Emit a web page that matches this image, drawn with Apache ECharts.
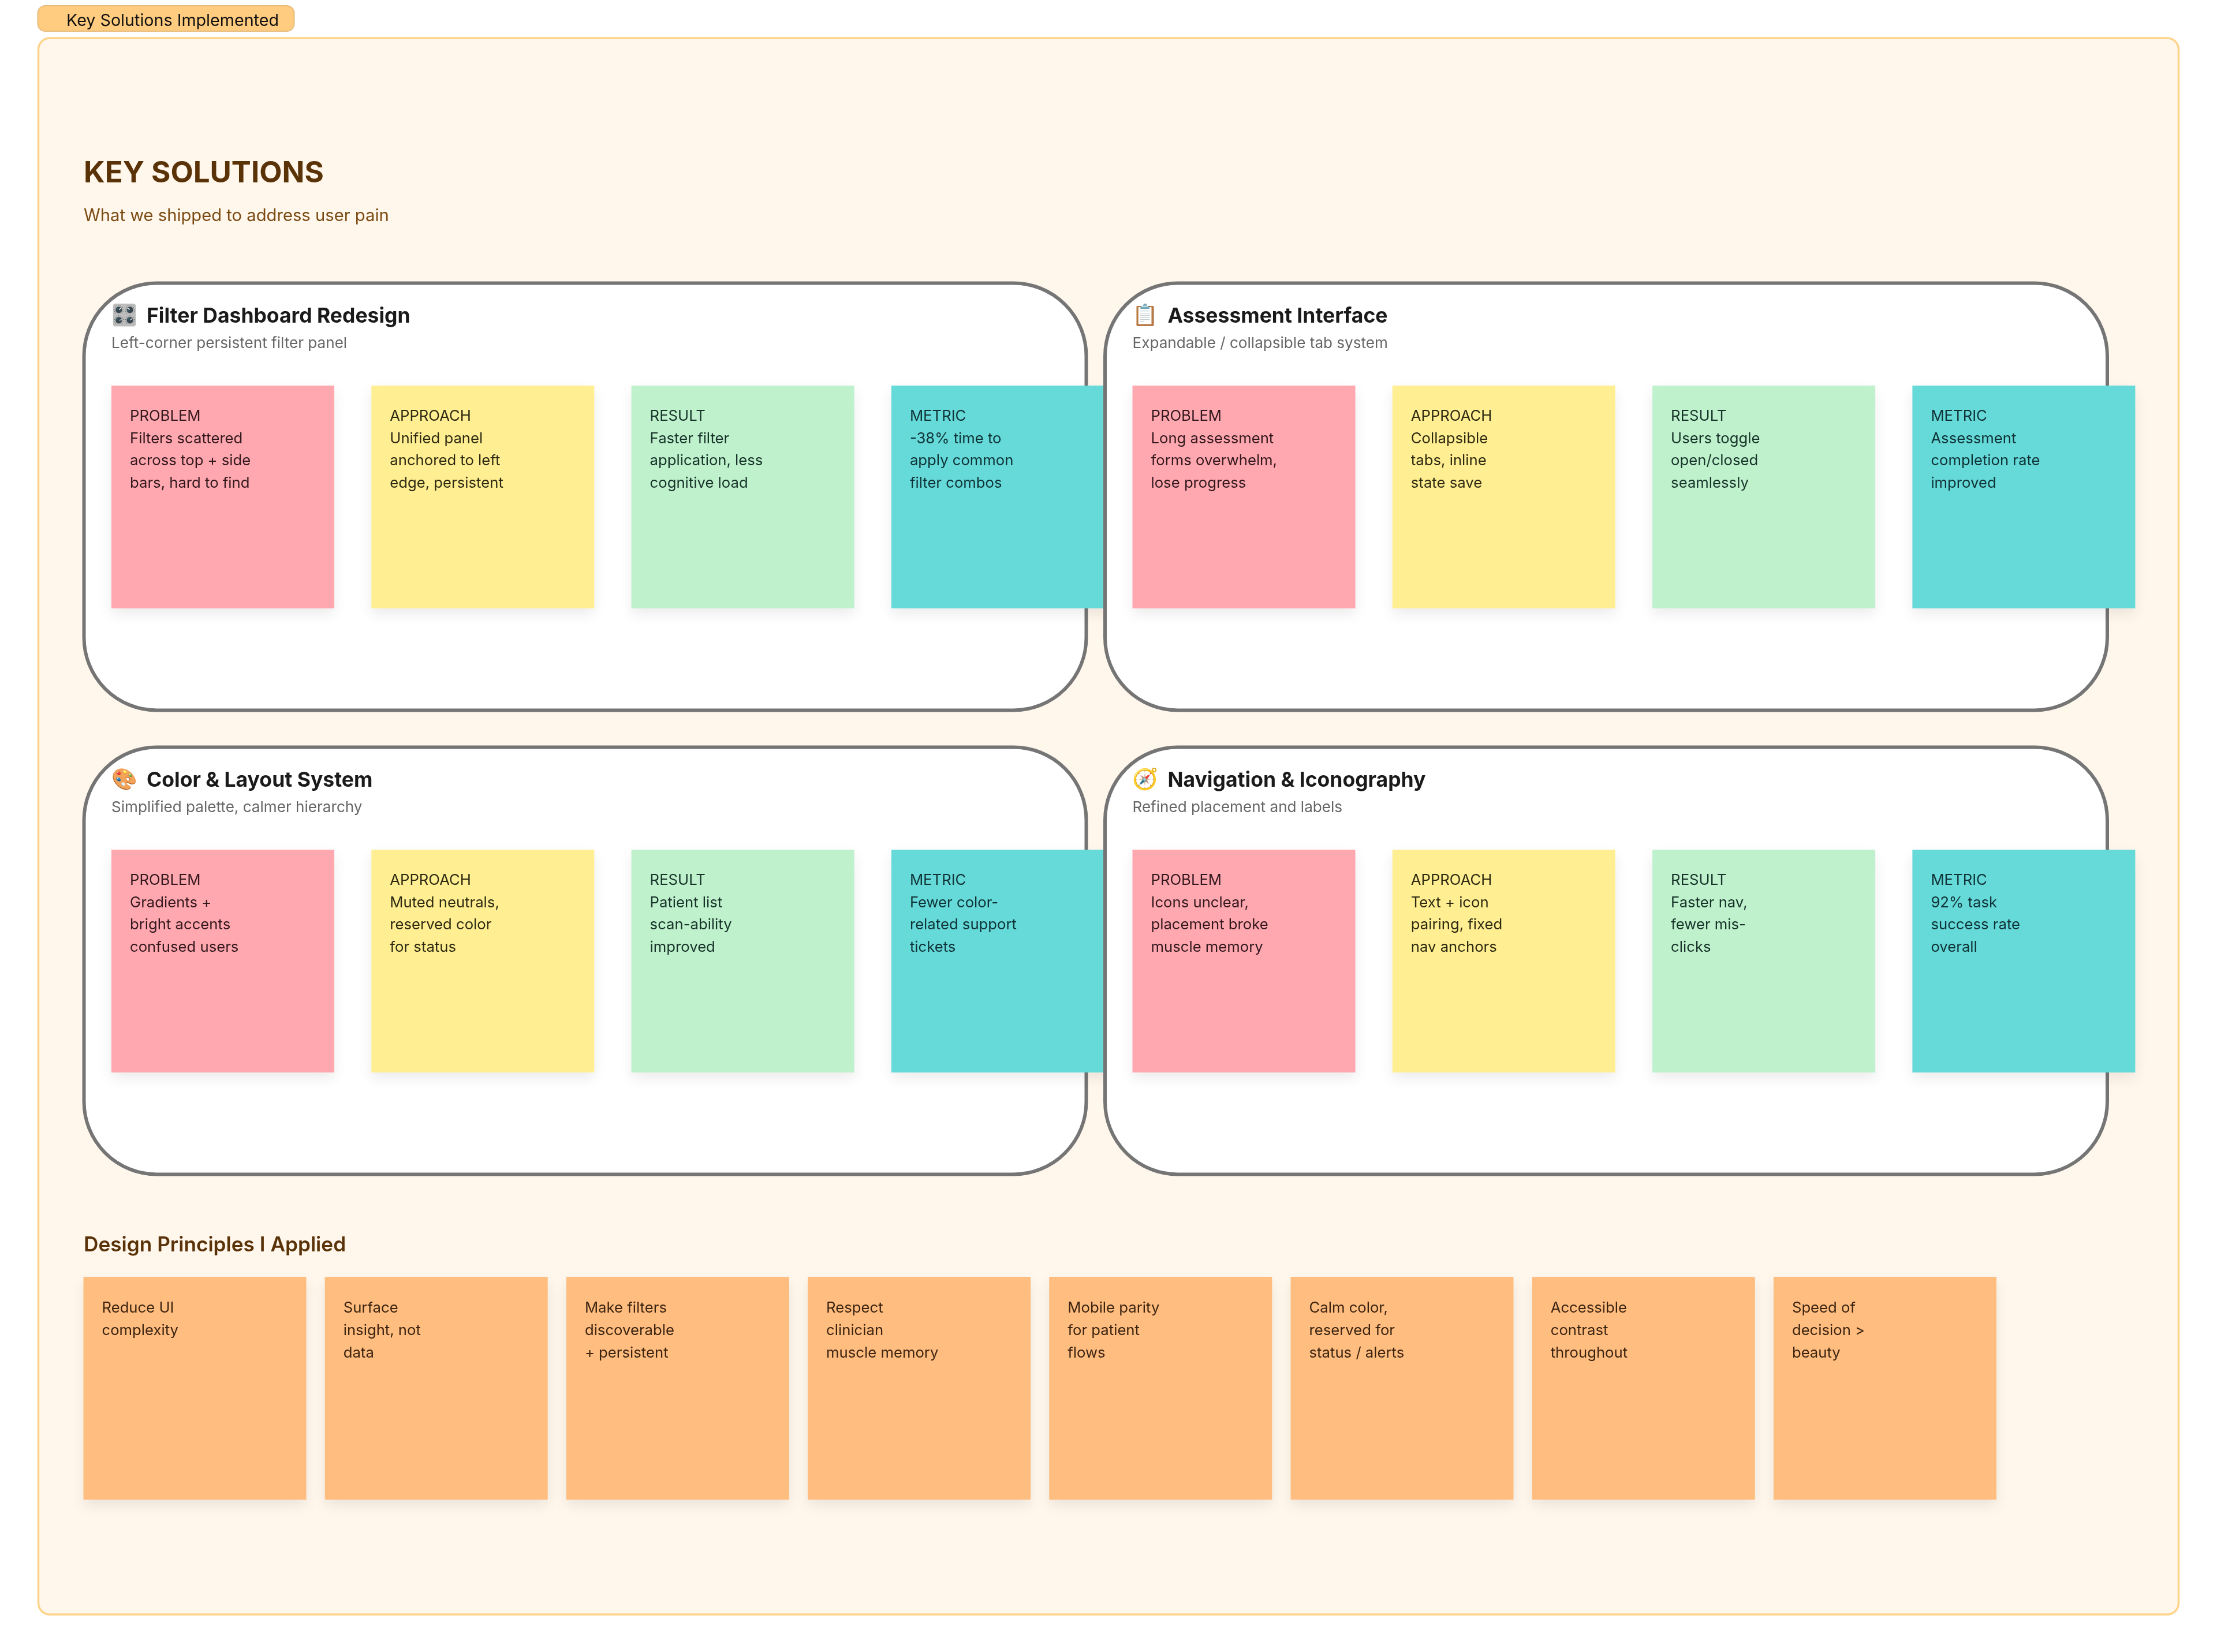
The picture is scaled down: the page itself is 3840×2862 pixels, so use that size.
<!DOCTYPE html>
<html><head><meta charset="utf-8">
<style>html,body{margin:0;padding:0;background:#fff}#c{width:3840px;height:2862px}</style>
<script src="https://cdn.jsdelivr.net/npm/echarts@6/dist/echarts.min.js"></script>
</head><body><div id="c"></div>
<script>
const tagLabel = 'Key Solutions Implemented';
const mainTitle = 'KEY SOLUTIONS';
const mainSubtitle = 'What we shipped to address user pain';
const principlesTitle = 'Design Principles I Applied';
const panelIcons = ['🎛️','📋','🎨','🧭'];
const panelTitles = ['Filter Dashboard Redesign','Assessment Interface','Color & Layout System','Navigation & Iconography'];
const panelSubtitles = ['Left-corner persistent filter panel','Expandable / collapsible tab system','Simplified palette, calmer hierarchy','Refined placement and labels'];
const noteKinds = ['PROBLEM','APPROACH','RESULT','METRIC'];
const problems = [
 ['Filters scattered','across top + side','bars, hard to find'],
 ['Long assessment','forms overwhelm,','lose progress'],
 ['Gradients +','bright accents','confused users'],
 ['Icons unclear,','placement broke','muscle memory']];
const approaches = [
 ['Unified panel','anchored to left','edge, persistent'],
 ['Collapsible','tabs, inline','state save'],
 ['Muted neutrals,','reserved color','for status'],
 ['Text + icon','pairing, fixed','nav anchors']];
const results = [
 ['Faster filter','application, less','cognitive load'],
 ['Users toggle','open/closed','seamlessly'],
 ['Patient list','scan-ability','improved'],
 ['Faster nav,','fewer mis-','clicks']];
const metrics = [
 ['-38% time to','apply common','filter combos'],
 ['Assessment','completion rate','improved'],
 ['Fewer color-','related support','tickets'],
 ['92% task','success rate','overall']];
const principles = [
 ['Reduce UI','complexity'],
 ['Surface','insight, not','data'],
 ['Make filters','discoverable','+ persistent'],
 ['Respect','clinician','muscle memory'],
 ['Mobile parity','for patient','flows'],
 ['Calm color,','reserved for','status / alerts'],
 ['Accessible','contrast','throughout'],
 ['Speed of','decision >','beauty']];

const noteTexts = [problems, approaches, results, metrics];
const noteFill = ['#FFA8B0','#FFEF92','#BFF1CC','#66D9D9'];
const noteInk  = ['#33181d','#2e2a12','#17332a','#0f3336'];
const FONT = 'Inter, "Noto Sans", sans-serif';
const SHADOW = {shadowColor:'rgba(0,0,0,0.08)',shadowBlur:22,shadowOffsetY:10};

/* ordered paint list: each entry is one drawing step; text y is the baseline */
const steps = [];
function txt(x,y,t,wt,sz,c,fam){steps.push({k:'txt',x:x,y:y,t:t,sz:sz,f:wt+' '+sz+'px '+(fam||FONT),c:c});}
steps.push({k:'box',x:65.5,y:10,w:444,h:44,r:13,fill:'#FFCC80',stroke:'#E8BC7C',lw:2});
txt(115,44,tagLabel,400,28.7,'#111');
steps.push({k:'box',x:66.5,y:66,w:3707,h:2731,r:20,fill:'#FFF7EC',stroke:'#FDD48A',lw:3.5});
txt(145,314,mainTitle,700,51,'#5A3208');
txt(145,382,mainSubtitle,400,29.2,'#7A4A12');
[[145.5,490.5],[1914,490.5],[145.5,1294.5],[1914,1294.5]].forEach(([px,py],i)=>{
  steps.push({k:'box',x:px,y:py,w:1736,h:740,r:126,fill:'#fff',stroke:'#757575',lw:6});
  txt(px+47.5,py+67,panelIcons[i],400,36,'#111','"Noto Color Emoji", '+FONT);
  txt(px+108.5,py+67,panelTitles[i],700,35.5,'#1a1a1a');
  txt(px+47.5,py+112,panelSubtitles[i],400,26.1,'#666');
  noteKinds.forEach((kind,j)=>{
    const nx=px+47.5+j*450.3, ny=py+177.5;
    steps.push({k:'box',x:nx,y:ny,w:386,h:386,r:0,fill:noteFill[j],shadow:true});
    [kind].concat(noteTexts[j][i]).forEach((line,l)=>{
      txt(nx+32,ny+60.5+l*38.6,line,400,25.7,noteInk[j]);
    });
  });
});
txt(145,2167,principlesTitle,600,35.2,'#5A3208');
principles.forEach((lines,i)=>{
  const nx=144.5+i*418.2, ny=2212;
  steps.push({k:'box',x:nx,y:ny,w:386,h:386,r:0,fill:'#FFBD80',shadow:true});
  lines.forEach((line,l)=>{
    txt(nx+32,ny+61+l*39,line,400,25.7,'#3d2410');
  });
});

const chart = echarts.init(document.getElementById('c'),null,{renderer:'canvas',devicePixelRatio:1,width:3840,height:2862});
chart.setOption({
  animation:false,
  backgroundColor:'#ffffff',
  grid:{left:0,right:0,top:0,bottom:0},
  xAxis:{type:'value',min:0,max:3840,show:false},
  yAxis:{type:'value',min:0,max:2862,inverse:true,show:false},
  series:[{
    type:'custom',
    coordinateSystem:'cartesian2d',
    clip:false,
    silent:true,
    data:steps.map(s=>[s.x,s.y,s.w||0,s.h||0]),
    renderItem:function(params,api){
      const s=steps[params.dataIndex];
      const p=api.coord([api.value(0),api.value(1)]);
      if(s.k==='box'){
        const q=api.coord([api.value(0)+api.value(2),api.value(1)+api.value(3)]);
        const style={fill:s.fill};
        if(s.stroke){style.stroke=s.stroke;style.lineWidth=s.lw;}
        if(s.shadow)Object.assign(style,SHADOW);
        return {type:'rect',z2:params.dataIndex,shape:{x:p[0],y:p[1],width:q[0]-p[0],height:q[1]-p[1],r:s.r},style:style};
      }
      return {type:'text',z2:params.dataIndex,x:p[0],y:p[1]-0.27*s.sz,style:{text:s.t,font:s.f,fill:s.c,align:'left',verticalAlign:'bottom',lineHeight:0}};
    }
  }]
});
</script></body></html>
